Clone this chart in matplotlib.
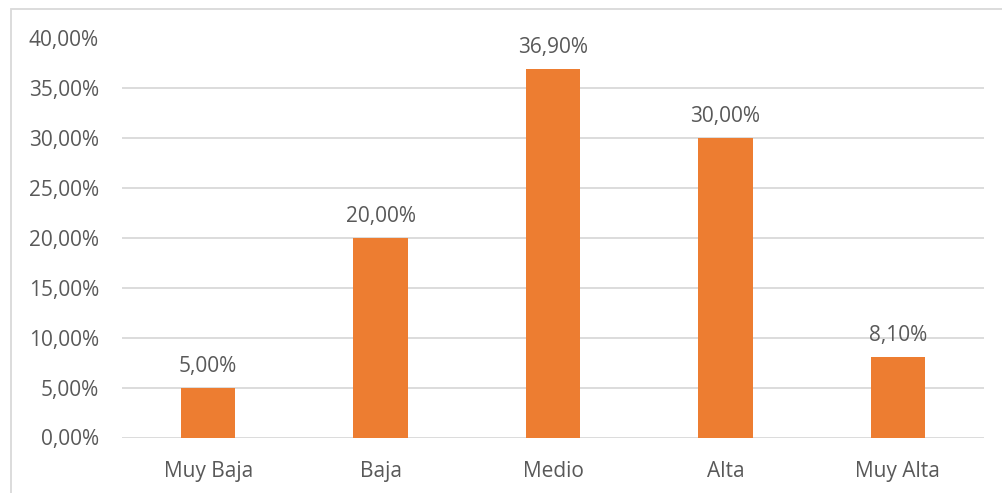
import matplotlib
matplotlib.use("Agg")
import matplotlib.pyplot as plt
from matplotlib.ticker import FuncFormatter, MultipleLocator
from matplotlib.patches import Rectangle

categories = ["Muy Baja", "Baja", "Medio", "Alta", "Muy Alta"]
values = [5.00, 20.00, 36.90, 30.00, 8.10]

plt.rcParams['font.family'] = ['Open Sans', 'DejaVu Sans']
text_color = "#595959"
bar_color = "#ED7D31"
grid_color = "#D9D9D9"
fs = 15

fig = plt.figure(figsize=(10.02, 4.93), dpi=100)
W, H = 1002, 493
ax = fig.add_axes([122 / W, 1 - 437.5 / H, (984 - 122) / W, (437.5 - 38.5) / H])

def es_pct(v):
    return f"{v:.2f}".replace(".", ",") + "%"

x = range(len(categories))
bars = ax.bar(x, values, width=0.315, color=bar_color, zorder=3)
for xi, v in zip(x, values):
    ax.annotate(es_pct(v), (xi, v), xytext=(0, 8), textcoords="offset points",
                ha="center", va="bottom", fontsize=fs, color=text_color)

ax.set_xlim(-0.5, len(categories) - 0.5)
ax.set_ylim(0, 40)
ax.yaxis.set_major_locator(MultipleLocator(5))
ax.yaxis.set_major_formatter(FuncFormatter(lambda v, p: es_pct(v)))
ax.set_xticks(list(x))
ax.set_xticklabels(categories)
ax.tick_params(axis="both", length=0, labelsize=fs, labelcolor=text_color)
ax.tick_params(axis="y", pad=16.5)
ax.tick_params(axis="x", pad=17)
ax.grid(axis="y", color=grid_color, linewidth=1.3, zorder=0)
for s in ax.spines.values():
    s.set_visible(False)

# chart area frame
fig.patches.append(Rectangle((11 / W, -0.1), 1.2, 1 - 9 / H + 0.1,
                             transform=fig.transFigure, fill=False,
                             edgecolor="#D9D9D9", linewidth=1.3))

fig.savefig("out.png", dpi=100)
